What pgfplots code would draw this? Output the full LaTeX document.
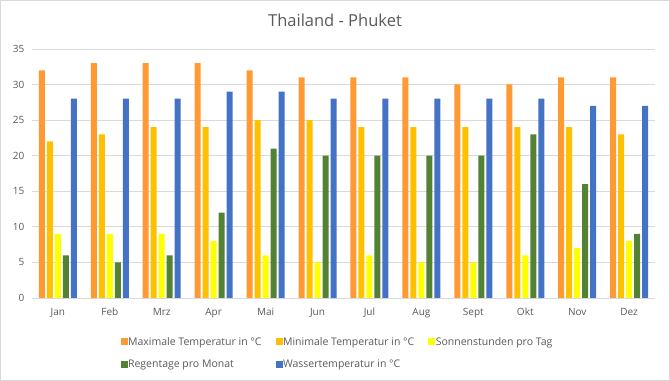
\documentclass[border=0pt]{standalone}
\usepackage{pgfplots}
\pgfplotsset{compat=1.18}
\usepackage{fontspec}
\setmainfont{Open Sans}
\definecolor{cmax}{HTML}{FF9933}
\definecolor{cmin}{HTML}{FFC000}
\definecolor{csun}{HTML}{FFFF00}
\definecolor{crain}{HTML}{548235}
\definecolor{cwat}{HTML}{4472C4}
\definecolor{txt}{HTML}{595959}
\definecolor{gridc}{HTML}{D9D9D9}
\begin{document}
\begin{tikzpicture}[x=1pt,y=1pt]
\draw[gridc, line width=0.8pt] (0.5,0.5) rectangle (669.5,380.5);
\node[txt, font=\fontsize{16.5}{19}\selectfont] at (335,361) {Thailand - Phuket};
\begin{axis}[
  at={(32pt,83pt)}, anchor=south west,
  scale only axis, width=623pt, height=249pt,
  ybar=2pt, bar width=6pt,
  xmin=-0.5, xmax=11.5, ymin=0, ymax=35,
  ytick={0,5,...,35},
  xtick=data,
  xticklabels={Jan,Feb,Mrz,Apr,Mai,Jun,Jul,Aug,Sept,Okt,Nov,Dez},
  major tick length=0pt,
  ymajorgrids, grid style={gridc, line width=0.8pt},
  axis x line*=bottom, axis y line*=left,
  x axis line style={draw=gridc, line width=0.8pt, -},
  y axis line style={draw=none},
  ticklabel style={txt, font=\fontsize{10}{12}\selectfont},
  /pgf/number format/assume math mode=true,
  yticklabel style={xshift=-4pt},
  xticklabel style={yshift=-5pt, text height=1.6ex, text depth=0.3ex},
  legend columns=3,
  legend style={at={(0.5,-0.14)}, anchor=north, xshift=-6pt, draw=none, fill=none,
    font=\fontsize{10.5}{12}\selectfont, text=txt,
    /tikz/every even column/.append style={column sep=12pt},
    /tikz/every odd column/.append style={column sep=-1.5pt},
    row sep=9pt},
  legend cell align=left,
  legend image code/.code={\fill[#1] (0pt,-3.5pt) rectangle (7pt,3.5pt);},
  clip=false,
]
\addplot[fill=cmax, draw=none] coordinates {(0,32)(1,33)(2,33)(3,33)(4,32)(5,31)(6,31)(7,31)(8,30)(9,30)(10,31)(11,31)};
\addplot[fill=cmin, draw=none] coordinates {(0,22)(1,23)(2,24)(3,24)(4,25)(5,25)(6,24)(7,24)(8,24)(9,24)(10,24)(11,23)};
\addplot[fill=csun, draw=none] coordinates {(0,9)(1,9)(2,9)(3,8)(4,6)(5,5)(6,6)(7,5)(8,5)(9,6)(10,7)(11,8)};
\addplot[fill=crain, draw=none] coordinates {(0,6)(1,5)(2,6)(3,12)(4,21)(5,20)(6,20)(7,20)(8,20)(9,23)(10,16)(11,9)};
\addplot[fill=cwat, draw=none] coordinates {(0,28)(1,28)(2,28)(3,29)(4,29)(5,28)(6,28)(7,28)(8,28)(9,28)(10,27)(11,27)};
\legend{Maximale Temperatur in °C, Minimale Temperatur in °C, Sonnenstunden pro Tag, Regentage pro Monat, Wassertemperatur in °C}
\end{axis}
\end{tikzpicture}
\end{document}
